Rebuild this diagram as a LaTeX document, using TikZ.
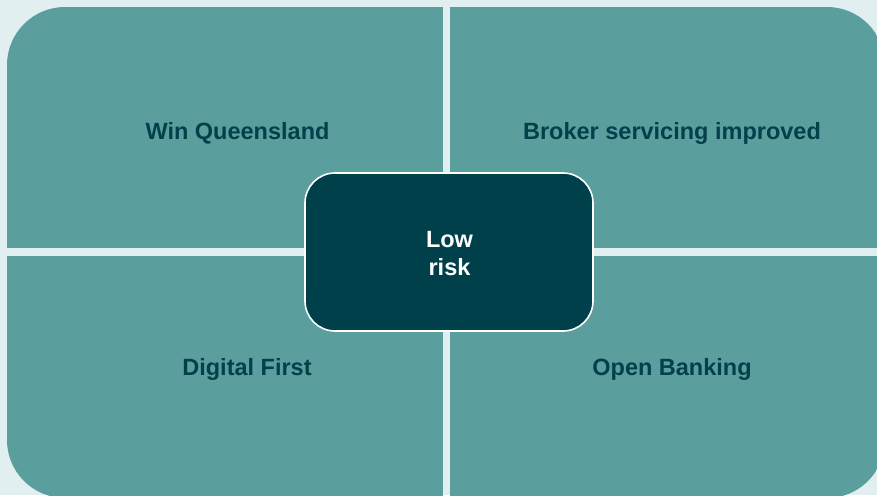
\documentclass[tikz,border=0pt]{standalone}
\usepackage{fontspec}
\setmainfont{Liberation Sans}
\definecolor{bgc}{HTML}{E2EFF0}
\definecolor{quadc}{HTML}{5A9F9E}
\definecolor{darkc}{HTML}{00404A}
\definecolor{txtc}{HTML}{03404B}
\begin{document}
\begin{tikzpicture}[x=1pt,y=-1pt,
  quadlabel/.style={text=txtc,font=\fontsize{23.5}{28}\selectfont\bfseries,inner sep=0pt},
  centerbox/.style={rectangle,rounded corners=30pt,fill=darkc,draw=white,line width=1.6pt,
    minimum width=288pt,minimum height=158pt},
  centertext/.style={text=white,align=center,inner sep=0pt,
    font=\fontsize{23.5}{28}\selectfont\bfseries}]
\useasboundingbox (0,0) rectangle (877,495);
\fill[bgc] (0,0) rectangle (877,495);
\begin{scope}
  \clip[rounded corners=58pt] (7,7) rectangle (885,498);
  \fill[quadc] (7,7) rectangle (443,248);
  \fill[quadc] (450,7) rectangle (885,248);
  \fill[quadc] (7,256) rectangle (443,498);
  \fill[quadc] (450,256) rectangle (885,498);
\end{scope}
\node[quadlabel] (tl) at (237.5,133) {Win Queensland};
\node[quadlabel] (tr) at (672,133) {Broker servicing improved};
\node[quadlabel] (bl) at (247,369) {Digital First};
\node[quadlabel] (br) at (672,369) {Open Banking};
\node[centerbox] (c) at (449,252) {};
\node[centertext] (ct) at (449.5,254) {Low\\risk};
\end{tikzpicture}
\end{document}
